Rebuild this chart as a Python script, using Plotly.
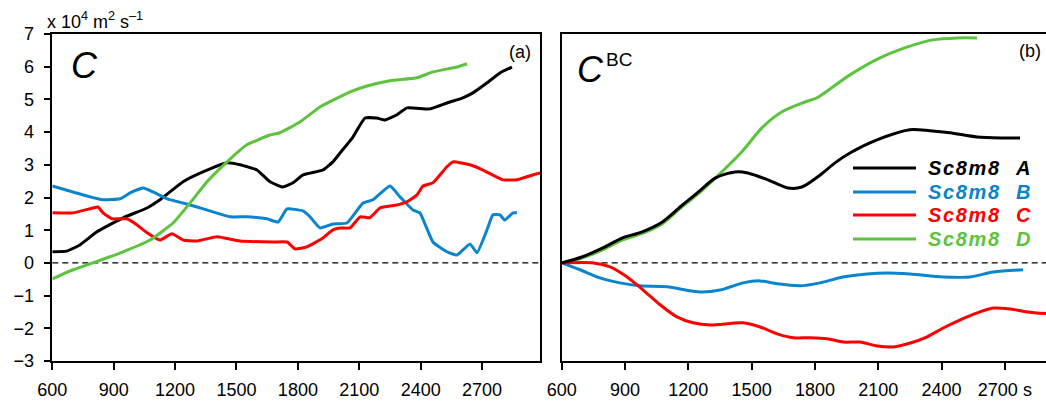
import plotly.graph_objects as go

# ---------------- data (units: 10^4 m^2 s^-1, time in s) ----------------
names = ["Sc8m8 A", "Sc8m8 B", "Sc8m8 C", "Sc8m8 D"]
colors = ["#000000", "#0a84cc", "#ff0000", "#5cc33f"]

# panel (a): C
a_A_x = [600, 670, 735, 818, 946, 1063, 1126, 1239, 1336, 1454, 1517, 1600, 1664, 1727, 1776, 1825,
         1922, 1971, 2006, 2069, 2128, 2186, 2225, 2284, 2333, 2445, 2528, 2606, 2655, 2723, 2787, 2846]
a_A_y = [0.34, 0.36, 0.55, 0.95, 1.38, 1.68, 1.93, 2.48, 2.78, 3.06, 3.0, 2.84, 2.48, 2.32, 2.45, 2.69,
         2.84, 3.09, 3.36, 3.85, 4.43, 4.43, 4.37, 4.53, 4.74, 4.71, 4.89, 5.05, 5.2, 5.5, 5.81, 5.99]

a_B_x = [600, 701, 785, 848, 931, 980, 1044, 1092, 1161, 1239, 1307, 1385, 1468, 1551, 1649, 1703,
         1747, 1825, 1859, 1908, 1971, 2040, 2118, 2167, 2250, 2299, 2362, 2396, 2460, 2528, 2577,
         2641, 2675, 2724, 2753, 2787, 2811, 2851, 2870]
a_B_y = [2.35, 2.17, 2.02, 1.93, 1.96, 2.14, 2.29, 2.17, 1.96, 1.83, 1.71, 1.56, 1.41, 1.41, 1.35, 1.25,
         1.65, 1.59, 1.41, 1.07, 1.19, 1.22, 1.83, 1.93, 2.35, 2.02, 1.62, 1.53, 0.64, 0.34, 0.24,
         0.58, 0.31, 1.01, 1.47, 1.47, 1.31, 1.53, 1.53]

a_C_x = [600, 701, 799, 823, 848, 892, 965, 1014, 1063, 1126, 1185, 1239, 1307, 1405, 1517, 1678,
         1747, 1786, 1844, 1922, 1971, 2006, 2055, 2104, 2152, 2201, 2284, 2333, 2382, 2411, 2460,
         2528, 2558, 2641, 2704, 2802, 2870, 2948, 2983]
a_C_y = [1.53, 1.53, 1.68, 1.71, 1.53, 1.35, 1.35, 1.16, 0.92, 0.70, 0.89, 0.70, 0.67, 0.80, 0.67, 0.64,
         0.64, 0.43, 0.49, 0.76, 1.01, 1.07, 1.07, 1.41, 1.38, 1.68, 1.77, 1.87, 2.08, 2.35, 2.45,
         2.94, 3.09, 3.0, 2.84, 2.54, 2.54, 2.69, 2.75]

a_D_x = [600, 701, 799, 946, 1078, 1190, 1273, 1356, 1454, 1551, 1664, 1712, 1810, 1908, 2055, 2138,
         2250, 2382, 2460, 2577, 2626]
a_D_y = [-0.49, -0.21, 0.0, 0.34, 0.70, 1.22, 1.83, 2.48, 3.09, 3.61, 3.91, 3.98, 4.31, 4.77, 5.23, 5.41,
         5.57, 5.66, 5.84, 5.99, 6.09]

# panel (b): C^BC
b_A_x = [600, 696, 805, 886, 982, 1077, 1172, 1248, 1329, 1421, 1482, 1577, 1672, 1738, 1825, 1895,
         1966, 2094, 2250, 2345, 2440, 2568, 2691, 2772]
b_A_y = [0.0, 0.18, 0.49, 0.76, 0.95, 1.25, 1.77, 2.17, 2.6, 2.78, 2.75, 2.54, 2.29, 2.32, 2.69, 3.06,
         3.36, 3.76, 4.07, 4.04, 3.98, 3.85, 3.82, 3.82]

b_B_x = [600, 687, 781, 876, 971, 1098, 1256, 1350, 1459, 1540, 1621, 1730, 1824, 1933, 2047, 2141,
         2250, 2408, 2535, 2645, 2786]
b_B_y = [0.0, -0.21, -0.46, -0.61, -0.70, -0.73, -0.89, -0.83, -0.61, -0.55, -0.64, -0.70, -0.61, -0.43,
         -0.34, -0.31, -0.34, -0.43, -0.43, -0.28, -0.21]

b_C_x = [600, 750, 829, 910, 986, 1066, 1146, 1222, 1303, 1459, 1540, 1621, 1697, 1777, 1858, 1934,
         2014, 2095, 2171, 2252, 2332, 2408, 2489, 2569, 2645, 2725, 2806, 2895]
b_C_y = [0.0, 0.0, -0.12, -0.43, -0.83, -1.28, -1.65, -1.83, -1.90, -1.83, -1.96, -2.17, -2.29, -2.29,
         -2.32, -2.42, -2.42, -2.54, -2.57, -2.45, -2.26, -1.99, -1.74, -1.53, -1.38, -1.41, -1.50, -1.55]

b_D_x = [600, 696, 805, 886, 982, 1077, 1172, 1248, 1329, 1454, 1549, 1644, 1753, 1810, 1966, 2108,
         2236, 2359, 2474, 2568]
b_D_y = [0.0, 0.15, 0.43, 0.70, 0.90, 1.20, 1.72, 2.12, 2.6, 3.4, 4.13, 4.62, 4.92, 5.05, 5.75, 6.27,
         6.6, 6.82, 6.88, 6.88]

x_ticks = [600, 900, 1200, 1500, 1800, 2100, 2400, 2700]
x_ticktext_a = ["600", "900", "1200", "1500", "1800", "2100", "2400", "2700"]
x_ticktext_b = ["600", "900", "1200", "1500", "1800", "2100", "2400", "2700 s"]
y_ticks = [-3, -2, -1, 0, 1, 2, 3, 4, 5, 6, 7]
y_ticktext = ["\u22123", "\u22122", "\u22121", "0", "1", "2", "3", "4", "5", "6", "7"]

# ---------------- figure ----------------
W, H = 1046, 401
FONT = "Liberation Sans, Arial, Helvetica, sans-serif"

fig = go.Figure()
panel_a = [(a_A_x, a_A_y), (a_B_x, a_B_y), (a_C_x, a_C_y), (a_D_x, a_D_y)]
panel_b = [(b_A_x, b_A_y), (b_B_x, b_B_y), (b_C_x, b_C_y), (b_D_x, b_D_y)]
for i, (xs, ys) in enumerate(panel_a):
    fig.add_trace(go.Scatter(x=xs, y=ys, mode="lines", name=names[i], showlegend=False,
                             line=dict(color=colors[i], width=3, shape="spline", smoothing=0.4),
                             xaxis="x", yaxis="y"))
# draw D before A in panel b so black sits on top of green where they overlap
order_b = [3, 1, 2, 0]
for i in order_b:
    xs, ys = panel_b[i]
    fig.add_trace(go.Scatter(x=xs, y=ys, mode="lines", name=names[i], showlegend=False,
                             line=dict(color=colors[i], width=3, shape="spline", smoothing=0.8),
                             xaxis="x2", yaxis="y2"))

ydom = [40 / H, 367 / H]
axis_common = dict(showgrid=False, zeroline=False, showline=True, linecolor="black", linewidth=1.5,
                   ticks="outside", ticklen=7, tickwidth=1.5, tickcolor="black",
                   tickfont=dict(family=FONT, size=18, color="black"), automargin=False)

fig.update_layout(
    width=W, height=H,
    margin=dict(l=0, r=0, t=0, b=0),
    paper_bgcolor="white", plot_bgcolor="white",
    showlegend=False,
    xaxis=dict(domain=[52.3 / W, 540 / W], range=[600, 2983], tickvals=x_ticks,
               ticktext=x_ticktext_a, mirror=True, anchor="y", ticklabelstandoff=5, **axis_common),
    yaxis=dict(domain=ydom, range=[-3, 7], tickvals=y_ticks, ticktext=y_ticktext,
               mirror=True, anchor="x", ticklabelstandoff=6, **axis_common),
    xaxis2=dict(domain=[561.7 / W, 1.0], range=[600, 2895], tickvals=x_ticks,
                ticktext=x_ticktext_b, mirror=True, anchor="y2", ticklabelstandoff=5, **axis_common),
    yaxis2=dict(domain=ydom, range=[-3, 7], anchor="x2", showgrid=False, zeroline=False,
                showline=True, linecolor="black", linewidth=1.5, showticklabels=False,
                ticks="", mirror=False, automargin=False),
)

# dashed zero lines
for xr, yr in [("x domain", "y"), ("x2 domain", "y2")]:
    fig.add_shape(type="line", xref=xr, yref=yr, x0=0, x1=1, y0=0, y1=0,
                  line=dict(color="black", width=1.2, dash="6px,4px"), layer="below")

def px(x):
    return x / W

def py(y):
    return 1 - y / H

ann = []
ann.append(dict(x=px(45), y=py(20), xanchor="left", yanchor="middle",
                text="x 10<sup>4</sup> m<sup>2</sup> s<sup>\u20131</sup>",
                font=dict(family=FONT, size=18, color="black")))
ann.append(dict(x=px(84), y=py(65), xanchor="center", yanchor="middle", text="<i>C</i>",
                font=dict(family=FONT, size=36, color="black")))
ann.append(dict(x=px(590), y=py(69), xanchor="center", yanchor="middle", text="<i>C</i>",
                font=dict(family=FONT, size=36, color="black")))
ann.append(dict(x=px(619), y=py(59), xanchor="center", yanchor="middle", text="BC",
                font=dict(family=FONT, size=19, color="black")))
ann.append(dict(x=px(520), y=py(52), xanchor="center", yanchor="middle", text="(a)",
                font=dict(family=FONT, size=18, color="black")))
ann.append(dict(x=px(1030), y=py(51), xanchor="center", yanchor="middle", text="(b)",
                font=dict(family=FONT, size=18, color="black")))

# legend (manual)
leg_rows = [168, 192, 215, 239]
for i, yrow in enumerate(leg_rows):
    fig.add_shape(type="line", xref="paper", yref="paper", x0=px(853), x1=px(916),
                  y0=py(yrow), y1=py(yrow), line=dict(color=colors[i], width=3))
    base, letter = names[i].split(" ")
    label = "\u200a".join(base) + "\u00a0\u00a0\u2009\u200a" + letter
    ann.append(dict(x=px(926), y=py(yrow), xanchor="left", yanchor="middle",
                    text="<b><i>" + label + "</i></b>",
                    font=dict(family=FONT, size=20, color=colors[i])))

for a in ann:
    a.update(xref="paper", yref="paper", showarrow=False)
fig.update_layout(annotations=ann)

fig.write_html("out.html", config={"displayModeBar": False},
               post_script="document.body.style.margin='0';document.body.style.overflow='hidden';")
